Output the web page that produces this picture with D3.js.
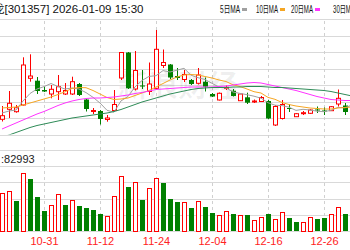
<!DOCTYPE html>
<html>
<head>
<meta charset="utf-8">
<script src="https://cdn.jsdelivr.net/npm/d3@7/dist/d3.min.js"></script>
<style>
  body { margin: 0; background: #fff; overflow: hidden; }
  svg { display: block; }
</style>
</head>
<body>
<div id="chart"></div>
<script>
const width = 350;
const height = 250;

// trading days shown (the last one is cut by the right edge)
const dates = [
  '10-23','10-24','10-27','10-28','10-29','10-30','10-31','11-03','11-04','11-05',
  '11-06','11-07','11-10','11-11','11-12','11-13','11-14','11-17','11-18','11-19',
  '11-20','11-21','11-24','11-25','11-26','11-27','11-28','12-01','12-02','12-03',
  '12-04','12-05','12-08','12-09','12-10','12-11','12-12','12-15','12-16','12-17',
  '12-18','12-19','12-22','12-23','12-24','12-25','12-26','12-29','12-30','12-31',
  '01-05'
];
const opens = [
  20.35,25.35,24.15,27.5,40.85,39.65,35,33,34.15,33,
  33,38,30.25,24.25,24.5,20.25,24.75,41,53.75,35.5,
  37.25,34.25,35.85,47.25,47.75,42,40.25,40,38.35,39.15,
  33,30,35.85,34.65,29.65,31.35,29.15,29.25,29.5,17.5,
  20.75,26,21.65,23.25,23.35,25.25,24.75,24.65,28,27.25,
  26
];
const closes = [
  22.15,28.35,26.15,47.5,42,34.5,34.25,35.35,36.65,34.75,
  39.15,32.5,25.5,24.75,20.5,21,27.75,53.75,35.85,44.75,
  36.75,38,55.35,48.75,41.25,41,42.75,38,42.5,36.65,
  31.75,33.35,36.35,32,33,28.65,29.5,31.25,20.75,26.75,
  27.75,25.5,23.15,23.65,25,24.75,24.25,26.65,30.85,24,
  32
];
const highs = [
  27,34.5,27.5,51.35,52.85,41.5,36.65,37.5,42.5,38.5,
  41.65,38.5,30.5,26,25,22.5,35,54,54,54.5,
  45,48.75,65,55.25,48,46,45,40.5,46,41.25,
  33.5,33.75,37.25,35.5,33.5,33.65,30.25,32,30,27.5,
  30,28,23.5,24.5,25.5,26.75,26.25,27,35.25,28.5,
  34
];
const lows = [
  19.25,21,23.65,27.25,39.15,33,34,30.85,30,32.5,
  32.5,32,24.25,23,17.75,19.15,24.25,40,35.5,34.75,
  35.5,32.5,35,46,40.5,40,39,37.5,37.75,34.25,
  31.5,29.75,35,31.75,29.5,28,28.5,29,20.5,17,
  20.25,24,21.5,22.5,23,23.5,22.5,24.5,26.75,22.5,
  25
];
const prevClose = 21.5;
const volumes = [
  191500,200000,148500,291500,260000,170000,101500,128500,185000,128500,
  155000,123500,115000,105000,86500,75000,173500,276500,218500,243500,
  155000,213500,263500,238500,160000,146500,145000,115000,150000,118500,
  91500,78500,101500,83500,78500,78500,55000,68500,86500,60000,
  95000,63500,45000,43500,68500,60000,65000,86500,121500,86500,
  131500
];
const ma5 = [
  23.5,24.5,25,29.5,33.25,35.5,36.7,38.25,36.75,35.5,
  36,35.5,33.7,31.35,28.5,24.85,23.9,29.55,31.75,36.6,
  39.75,41.8,42.15,44.7,44,44.9,45.85,42.4,41.15,40.25,
  38.35,36.45,36.1,34,33.3,32.65,31.9,30.9,28.65,27.4,
  27.2,26.4,24.8,25.35,25,24.4,24.15,24.85,26.3,26.1,
  27.55
];
const ma10 = [
  26,26.25,26.5,27.5,28.5,29.5,30.5,31.5,32.75,34.1,
  35.8,36.2,36.15,34.75,33,31.25,30.25,30.5,31,32.25,
  33.5,34.75,36.5,38.25,40,41.5,42.5,42.75,42.5,41.75,
  41,40,39.25,37.6,36.75,35.5,34.15,33.5,31.3,30.35,
  28.75,27.75,27,26.5,26,25.75,25.5,25.5,26,26.25,
  26.5
];
const ma20 = [
  15.5,17,18.5,20,21.5,23,24.25,25.75,27.25,28.5,
  29.5,30.25,30.75,31,31,31.25,31.5,32,32.5,33.25,
  33.75,34.5,35.25,35.5,35.75,36,36.25,36.5,36.5,36.5,
  36.5,36.75,37,37.5,38,38.5,38.75,38.5,37.75,37,
  36.25,35.5,34.75,33.75,32.75,31.75,31,30.25,30,29.75,
  29.75
];
const ma30 = [
  11.5,12.5,13.75,15,16.25,17.25,18,18.75,19.5,20.25,
  21,21.5,22,22.5,23,23.5,24.25,25.25,26.5,27.75,
  29,30,31,32,33,33.75,34.5,35.25,35.75,36,
  36.25,36.25,36.25,36.5,36.5,36.75,36.75,36.75,36.5,36.25,
  36.25,36,35.75,35.5,35.25,35,34.75,34.25,33.5,32.75,
  32
];
const tickDates = ['10-31','11-12','11-24','12-04','12-16','12-26'];
const stockName = '北方长龙';
const titleText = '[301357] 2026-01-09 15:30';
const volumeText = ':82993';
const maNames = ['5日MA','10日MA','20日MA','30日MA'];
const maSeries = [ma5, ma10, ma20, ma30];
const maColors = ['#a0a0a0','#f5a623','#ff33ff','#2e8b57'];

const red = '#ff0000';
const green = '#008000';
const gridColor = '#d9d9d9';

// panels
const price = { top: 19, bottom: 134.5, rows: 7 };
const vol = { top: 150, bottom: 231, rows: 5 };

const svg = d3.select('#chart')
  .append('svg')
  .attr('width', width)
  .attr('height', height)
  .attr('viewBox', `0 0 ${width} ${height}`)
  .style('font-family', '"Liberation Sans", "Noto Sans CJK SC", sans-serif');

const xScale = d3.scalePoint()
  .domain(dates)
  .range([2, 2 + 7 * (dates.length - 1)]);

const yScale = d3.scaleLinear()
  .domain([12.75, 70.5])
  .range([price.bottom, price.top]);

const vScale = d3.scaleLinear()
  .domain([0, 405000])
  .range([vol.bottom, vol.top]);

const px = v => Math.round(v) + 0.5;

// horizontal grid lines
const gridG = svg.append('g').attr('class', 'grid');
const rowY = (p, i) => p.top + (p.bottom - p.top) * i / p.rows;
for (const p of [price, vol]) {
  d3.range(p.rows + 1).forEach(i => {
    gridG.append('line')
      .attr('x1', 0).attr('x2', width)
      .attr('y1', px(rowY(p, i))).attr('y2', px(rowY(p, i)))
      .attr('stroke', gridColor)
      .attr('stroke-width', 1);
  });
}

// vertical dashed lines at the labelled days
gridG.selectAll('line.v')
  .data(tickDates)
  .join('line')
  .attr('class', 'v')
  .attr('x1', d => px(xScale(d))).attr('x2', d => px(xScale(d)))
  .attr('y1', price.top + 2).attr('y2', vol.bottom)
  .attr('stroke', '#d0d0d0')
  .attr('stroke-dasharray', '3,3');

// watermark
svg.append('text')
  .attr('x', 118).attr('y', 96)
  .attr('font-size', 30)
  .attr('font-weight', 'bold')
  .attr('font-family', '"Noto Sans CJK SC", sans-serif')
  .attr('fill', '#000')
  .attr('fill-opacity', 0.06)
  .text('新浪财经');

// candles
const candles = dates.map((d, i) => ({
  date: d, open: opens[i], close: closes[i], high: highs[i], low: lows[i],
  volume: volumes[i],
  up: closes[i] >= opens[i],
  volUp: closes[i] >= (i === 0 ? prevClose : closes[i - 1])
}));

svg.append('clipPath').attr('id', 'pclip')
  .append('rect')
  .attr('x', 0).attr('y', price.top)
  .attr('width', width).attr('height', price.bottom - price.top);

const pricePanel = svg.append('g').attr('clip-path', 'url(#pclip)');

const candleG = pricePanel.append('g').attr('class', 'candles');

candleG.selectAll('line.wick')
  .data(candles)
  .join('line')
  .attr('class', 'wick')
  .attr('x1', d => px(xScale(d.date))).attr('x2', d => px(xScale(d.date)))
  .attr('y1', d => yScale(d.high))
  .attr('y2', d => yScale(d.low))
  .attr('stroke', d => d.up ? red : green);

candleG.selectAll('rect.body')
  .data(candles)
  .join('rect')
  .attr('class', 'body')
  .attr('x', d => d.up ? Math.round(xScale(d.date)) - 1.5 : Math.round(xScale(d.date)) - 2)
  .attr('width', d => d.up ? 4 : 5)
  .attr('y', d => yScale(Math.max(d.open, d.close)))
  .attr('height', d => Math.max(1, Math.abs(yScale(d.open) - yScale(d.close))))
  .attr('fill', d => d.up ? '#fff' : green)
  .attr('stroke', d => d.up ? red : 'none')
  .attr('stroke-width', 1);

// moving averages
const maLine = s => d3.line()
  .x((d, i) => xScale(dates[i]))
  .y(d => yScale(d))(s);

pricePanel.append('g').attr('class', 'ma')
  .selectAll('path')
  .data(maSeries)
  .join('path')
  .attr('d', d => maLine(d))
  .attr('fill', 'none')
  .attr('stroke', (d, i) => maColors[i])
  .attr('stroke-width', 1);

// volume bars
svg.append('g').attr('class', 'volume')
  .selectAll('rect')
  .data(candles)
  .join('rect')
  .attr('x', d => d.volUp ? Math.round(xScale(d.date)) - 1.5 : Math.round(xScale(d.date)) - 2)
  .attr('width', d => d.volUp ? 4 : 5)
  .attr('y', d => Math.round(vScale(d.volume)) + (d.volUp ? 0.5 : 0))
  .attr('height', d => vol.bottom - Math.round(vScale(d.volume)))
  .attr('fill', d => d.volUp ? '#fff' : green)
  .attr('stroke', d => d.volUp ? red : 'none');

svg.append('text')
  .attr('x', 1).attr('y', 163)
  .attr('font-size', 11)
  .attr('fill', '#222')
  .text(volumeText);

// date labels
svg.append('g').attr('class', 'x-axis')
  .selectAll('text')
  .data(tickDates)
  .join('text')
  .attr('x', d => xScale(d) + 0.5)
  .attr('y', 245)
  .attr('text-anchor', 'middle')
  .attr('font-size', 11)
  .attr('fill', '#f22')
  .text(d => d);

// title
svg.append('text')
  .attr('x', 4.5).attr('y', 13)
  .attr('font-size', 11)
  .attr('text-anchor', 'end')
  .attr('fill', '#111')
  .text(stockName);
svg.append('text')
  .attr('x', 4.5).attr('y', 13)
  .attr('font-size', 11)
  .attr('fill', '#111')
  .attr('textLength', 139)
  .attr('lengthAdjust', 'spacingAndGlyphs')
  .text(titleText);

// legend
const legendX = [220, 256, 291, 333];
const legendW = [20, 22, 22, 22];
const legend = svg.append('g').attr('class', 'legend');
maNames.forEach((name, i) => {
  legend.append('text')
    .attr('x', legendX[i]).attr('y', 13)
    .attr('font-size', 10)
    .attr('fill', '#111')
    .attr('textLength', legendW[i])
    .attr('lengthAdjust', 'spacingAndGlyphs')
    .text(name);
  legend.append('rect')
    .attr('x', legendX[i] + legendW[i] + 2).attr('y', 8)
    .attr('width', 5).attr('height', 3)
    .attr('fill', maColors[i]);
});
</script>
</body>
</html>
